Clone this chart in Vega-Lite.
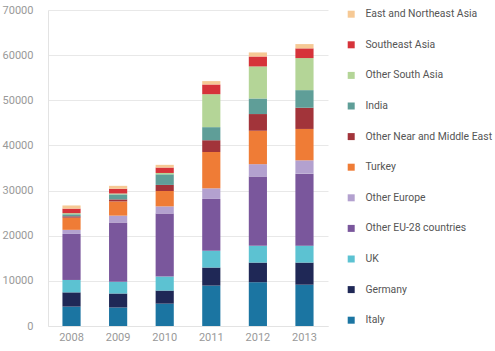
{
  "$schema": "https://vega.github.io/schema/vega-lite/v6.json",
  "width": 280,
  "height": 316,
  "autosize": {"type": "none"},
  "padding": {"left": 48, "top": 10, "right": 167, "bottom": 25},
  "background": "white",
  "config": {
    "view": {"stroke": null},
    "font": "Roboto"
  },
  "datasets": {
    "regions": [
      {"region": "Italy", "rank": 1},
      {"region": "Germany", "rank": 2},
      {"region": "UK", "rank": 3},
      {"region": "Other EU-28 countries", "rank": 4},
      {"region": "Other Europe", "rank": 5},
      {"region": "Turkey", "rank": 6},
      {"region": "Other Near and Middle East", "rank": 7},
      {"region": "India", "rank": 8},
      {"region": "Other South Asia", "rank": 9},
      {"region": "Southeast Asia", "rank": 10},
      {"region": "East and Northeast Asia", "rank": 11}
    ],
    "migrants": [
      {"year": "2008", "region": "Italy", "value": 4300},
      {"year": "2008", "region": "Germany", "value": 3150},
      {"year": "2008", "region": "UK", "value": 2750},
      {"year": "2008", "region": "Other EU-28 countries", "value": 10200},
      {"year": "2008", "region": "Other Europe", "value": 900},
      {"year": "2008", "region": "Turkey", "value": 2700},
      {"year": "2008", "region": "Other Near and Middle East", "value": 300},
      {"year": "2008", "region": "India", "value": 450},
      {"year": "2008", "region": "Other South Asia", "value": 250},
      {"year": "2008", "region": "Southeast Asia", "value": 1000},
      {"year": "2008", "region": "East and Northeast Asia", "value": 700},
      {"year": "2009", "region": "Italy", "value": 4100},
      {"year": "2009", "region": "Germany", "value": 3100},
      {"year": "2009", "region": "UK", "value": 2600},
      {"year": "2009", "region": "Other EU-28 countries", "value": 13150},
      {"year": "2009", "region": "Other Europe", "value": 1500},
      {"year": "2009", "region": "Turkey", "value": 3150},
      {"year": "2009", "region": "Other Near and Middle East", "value": 450},
      {"year": "2009", "region": "India", "value": 1100},
      {"year": "2009", "region": "Other South Asia", "value": 200},
      {"year": "2009", "region": "Southeast Asia", "value": 1050},
      {"year": "2009", "region": "East and Northeast Asia", "value": 650},
      {"year": "2010", "region": "Italy", "value": 4950},
      {"year": "2010", "region": "Germany", "value": 2900},
      {"year": "2010", "region": "UK", "value": 3100},
      {"year": "2010", "region": "Other EU-28 countries", "value": 13950},
      {"year": "2010", "region": "Other Europe", "value": 1600},
      {"year": "2010", "region": "Turkey", "value": 3400},
      {"year": "2010", "region": "Other Near and Middle East", "value": 1350},
      {"year": "2010", "region": "India", "value": 2350},
      {"year": "2010", "region": "Other South Asia", "value": 300},
      {"year": "2010", "region": "Southeast Asia", "value": 1200},
      {"year": "2010", "region": "East and Northeast Asia", "value": 600},
      {"year": "2011", "region": "Italy", "value": 8950},
      {"year": "2011", "region": "Germany", "value": 4000},
      {"year": "2011", "region": "UK", "value": 3700},
      {"year": "2011", "region": "Other EU-28 countries", "value": 11500},
      {"year": "2011", "region": "Other Europe", "value": 2350},
      {"year": "2011", "region": "Turkey", "value": 8050},
      {"year": "2011", "region": "Other Near and Middle East", "value": 2600},
      {"year": "2011", "region": "India", "value": 2900},
      {"year": "2011", "region": "Other South Asia", "value": 7300},
      {"year": "2011", "region": "Southeast Asia", "value": 2150},
      {"year": "2011", "region": "East and Northeast Asia", "value": 750},
      {"year": "2012", "region": "Italy", "value": 9700},
      {"year": "2012", "region": "Germany", "value": 4350},
      {"year": "2012", "region": "UK", "value": 3700},
      {"year": "2012", "region": "Other EU-28 countries", "value": 15350},
      {"year": "2012", "region": "Other Europe", "value": 2750},
      {"year": "2012", "region": "Turkey", "value": 7400},
      {"year": "2012", "region": "Other Near and Middle East", "value": 3700},
      {"year": "2012", "region": "India", "value": 3450},
      {"year": "2012", "region": "Other South Asia", "value": 7100},
      {"year": "2012", "region": "Southeast Asia", "value": 2200},
      {"year": "2012", "region": "East and Northeast Asia", "value": 900},
      {"year": "2013", "region": "Italy", "value": 9150},
      {"year": "2013", "region": "Germany", "value": 4900},
      {"year": "2013", "region": "UK", "value": 3750},
      {"year": "2013", "region": "Other EU-28 countries", "value": 15950},
      {"year": "2013", "region": "Other Europe", "value": 2950},
      {"year": "2013", "region": "Turkey", "value": 6950},
      {"year": "2013", "region": "Other Near and Middle East", "value": 4700},
      {"year": "2013", "region": "India", "value": 3900},
      {"year": "2013", "region": "Other South Asia", "value": 7100},
      {"year": "2013", "region": "Southeast Asia", "value": 2150},
      {"year": "2013", "region": "East and Northeast Asia", "value": 950}
    ]
  },
  "data": {"name": "migrants"},
  "transform": [
    {"lookup": "region", "from": {"data": {"name": "regions"}, "key": "region", "fields": ["rank"]}}
  ],
  "mark": {"type": "bar"},
  "encoding": {
    "x": {
      "field": "year",
      "type": "ordinal",
      "scale": {"paddingInner": 0.61, "paddingOuter": 0.31},
      "axis": {
        "title": null,
        "labelAngle": 0,
        "ticks": false,
        "domainColor": "#e3e3e3",
        "labelColor": "#999999",
        "labelFontSize": 11,
        "labelPadding": 5
      }
    },
    "y": {
      "field": "value",
      "type": "quantitative",
      "stack": "zero",
      "scale": {"domain": [0, 70000], "nice": false},
      "axis": {
        "title": null,
        "values": [0, 10000, 20000, 30000, 40000, 50000, 60000, 70000],
        "format": "d",
        "ticks": false,
        "domain": true,
        "domainColor": "#e3e3e3",
        "gridColor": "#e8e8e8",
        "labelColor": "#999999",
        "labelFontSize": 11,
        "labelPadding": 15
      }
    },
    "order": {"field": "rank", "type": "quantitative", "sort": "ascending"},
    "color": {
      "field": "region",
      "type": "nominal",
      "scale": {
        "domain": ["East and Northeast Asia", "Southeast Asia", "Other South Asia", "India", "Other Near and Middle East", "Turkey", "Other Europe", "Other EU-28 countries", "UK", "Germany", "Italy"],
        "range": ["#f6c995", "#d6333a", "#b4d597", "#5f9e98", "#a2343a", "#ef7c36", "#b3a1cf", "#7a579c", "#5cc2d2", "#1f2856", "#1b75a2"]
      },
      "legend": {
        "title": null,
        "orient": "none",
        "legendX": 298,
        "legendY": -1,
        "symbolType": "square",
        "symbolSize": 49,
        "symbolStrokeWidth": 0,
        "labelFontSize": 10.4,
        "labelColor": "#555555",
        "labelOffset": 9,
        "rowPadding": 19.6,
        "labelLimit": 200
      }
    }
  }
}
